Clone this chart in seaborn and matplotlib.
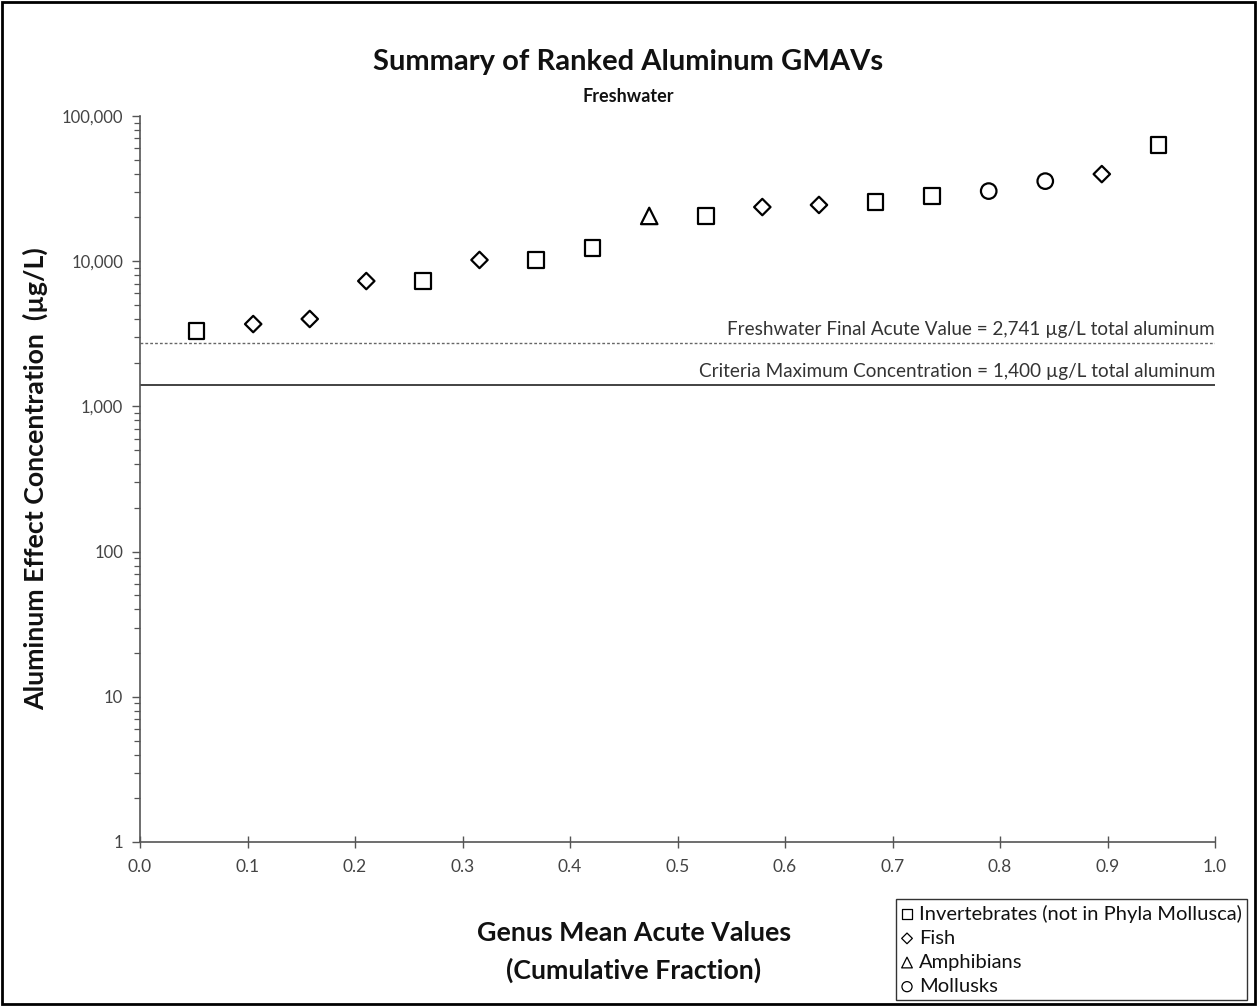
import matplotlib
matplotlib.use("Agg")
import matplotlib.pyplot as plt
import matplotlib.ticker as mticker
from matplotlib.patches import Rectangle
import seaborn as sns
import pandas as pd

# ---- data ----
cum_fraction = [0.0526, 0.1053, 0.1579, 0.2105, 0.2632, 0.3158, 0.3684, 0.4211, 0.4737,
                0.5263, 0.5789, 0.6316, 0.6842, 0.7368, 0.7895, 0.8421, 0.8947, 0.9474]
gmav = [3300, 3690, 4000, 7300, 7300, 10200, 10200, 12300, 20500,
        20500, 23600, 24400, 25600, 28100, 30400, 35600, 39800, 63100]
group = ["Invertebrates (not in Phyla Mollusca)", "Fish", "Fish", "Fish",
         "Invertebrates (not in Phyla Mollusca)", "Fish",
         "Invertebrates (not in Phyla Mollusca)", "Invertebrates (not in Phyla Mollusca)",
         "Amphibians", "Invertebrates (not in Phyla Mollusca)", "Fish", "Fish",
         "Invertebrates (not in Phyla Mollusca)", "Invertebrates (not in Phyla Mollusca)",
         "Mollusks", "Mollusks", "Fish", "Invertebrates (not in Phyla Mollusca)"]
group_order = ["Invertebrates (not in Phyla Mollusca)", "Fish", "Amphibians", "Mollusks"]
group_markers = {"Invertebrates (not in Phyla Mollusca)": "s", "Fish": "D",
                 "Amphibians": "^", "Mollusks": "o"}
group_sizes = {"Invertebrates (not in Phyla Mollusca)": 125, "Fish": 70,
               "Amphibians": 140, "Mollusks": 125}
fav_value = 2741
cmc_value = 1400
fav_label = "Freshwater Final Acute Value = 2,741 µg/L total aluminum"
cmc_label = "Criteria Maximum Concentration = 1,400 µg/L total aluminum"
y_ticks = [1, 10, 100, 1000, 10000, 100000]
x_ticks = [0.0, 0.1, 0.2, 0.3, 0.4, 0.5, 0.6, 0.7, 0.8, 0.9, 1.0]

df = pd.DataFrame({"x": cum_fraction, "y": gmav, "group": group})

sns.set_theme(style="white")
plt.rcParams["font.family"] = ["Lato", "DejaVu Sans"]

fig = plt.figure(figsize=(12.57, 10.06), dpi=100)
ax = fig.add_axes([140 / 1257, 1 - 842 / 1006, (1215 - 140) / 1257, (842 - 116) / 1006])

for g in group_order:
    sub = df[df["group"] == g]
    sns.scatterplot(data=sub, x="x", y="y", marker=group_markers[g], s=group_sizes[g],
                    color="black", facecolor="none", edgecolor="black", linewidth=1.6,
                    label=g, ax=ax, zorder=3)

ax.axhline(fav_value, color="#666666", lw=1.0, ls=(0, (2, 1.5)), zorder=2)
ax.axhline(cmc_value, color="#222222", lw=1.2, zorder=2)
ax.text(1.0, fav_value * 1.08, fav_label, ha="right", va="bottom", fontsize=13.6,
        color="#333333", transform=ax.get_yaxis_transform())
ax.text(1.0, cmc_value * 1.08, cmc_label, ha="right", va="bottom", fontsize=13.6,
        color="#333333", transform=ax.get_yaxis_transform())

ax.set_yscale("log")
ax.set_ylim(1, 100000)
ax.set_xlim(0, 1.0)
ax.set_yticks(y_ticks)
ax.yaxis.set_major_formatter(mticker.FuncFormatter(lambda v, p: f"{int(round(v)):,}"))
ax.yaxis.set_minor_locator(mticker.LogLocator(base=10, subs=range(2, 10), numticks=20))
ax.yaxis.set_minor_formatter(mticker.NullFormatter())
ax.set_xticks(x_ticks)
ax.set_xticklabels([f"{v:.1f}" for v in x_ticks])

for s in ["top", "right"]:
    ax.spines[s].set_visible(False)
for s in ["left", "bottom"]:
    ax.spines[s].set_color("#555555")
    ax.spines[s].set_linewidth(1.2)

ax.tick_params(axis="y", which="major", direction="out", length=6, width=1, color="#555555",
               labelsize=12, labelcolor="#444444", left=True, pad=6)
ax.tick_params(axis="y", which="minor", direction="out", length=4, width=0.9, color="#555555", left=True)
ax.tick_params(axis="x", which="major", direction="inout", length=8, width=1, color="#555555",
               labelsize=12.5, labelcolor="#444444", bottom=True, pad=8)

ax.set_xlabel("")
ax.set_ylabel("")

fig.text(0.5, 1 - 62 / 1006, "Summary of Ranked Aluminum GMAVs", ha="center", va="center",
         fontsize=21, fontweight="bold", color="#111111")
fig.text(0.5, 1 - 97 / 1006, "Freshwater", ha="center", va="center",
         fontsize=13, fontweight="bold", color="#111111")
fig.text(35 / 1257, 1 - 479 / 1006, "Aluminum Effect Concentration  (µg/L)", ha="center",
         va="center", rotation=90, fontsize=19.3, fontweight="bold", color="#111111")
fig.text(634 / 1257, 1 - 933 / 1006, "Genus Mean Acute Values", ha="center", va="center",
         fontsize=19.3, fontweight="bold", color="#111111")
fig.text(634 / 1257, 1 - 970 / 1006, "(Cumulative Fraction)", ha="center", va="center",
         fontsize=19.3, fontweight="bold", color="#111111")

leg = ax.legend(loc="lower right", bbox_to_anchor=(1247 / 1257, 6 / 1006),
                bbox_transform=fig.transFigure, frameon=True, fancybox=False,
                edgecolor="black", fontsize=14.5, markerscale=0.65, handlelength=0.6,
                handletextpad=0.3, borderpad=0.25, labelspacing=0.35, borderaxespad=0)
leg.get_frame().set_linewidth(1.0)
for t in leg.get_texts():
    t.set_color("#111111")
for h in leg.legend_handles:
    h.set_linewidth(0.9)

fig.patches.append(Rectangle((2 / 1257, 2 / 1006), 1 - 4 / 1257, 1 - 4 / 1006,
                             transform=fig.transFigure, fill=False, edgecolor="black",
                             linewidth=2))

fig.savefig("out.png", dpi=100)
